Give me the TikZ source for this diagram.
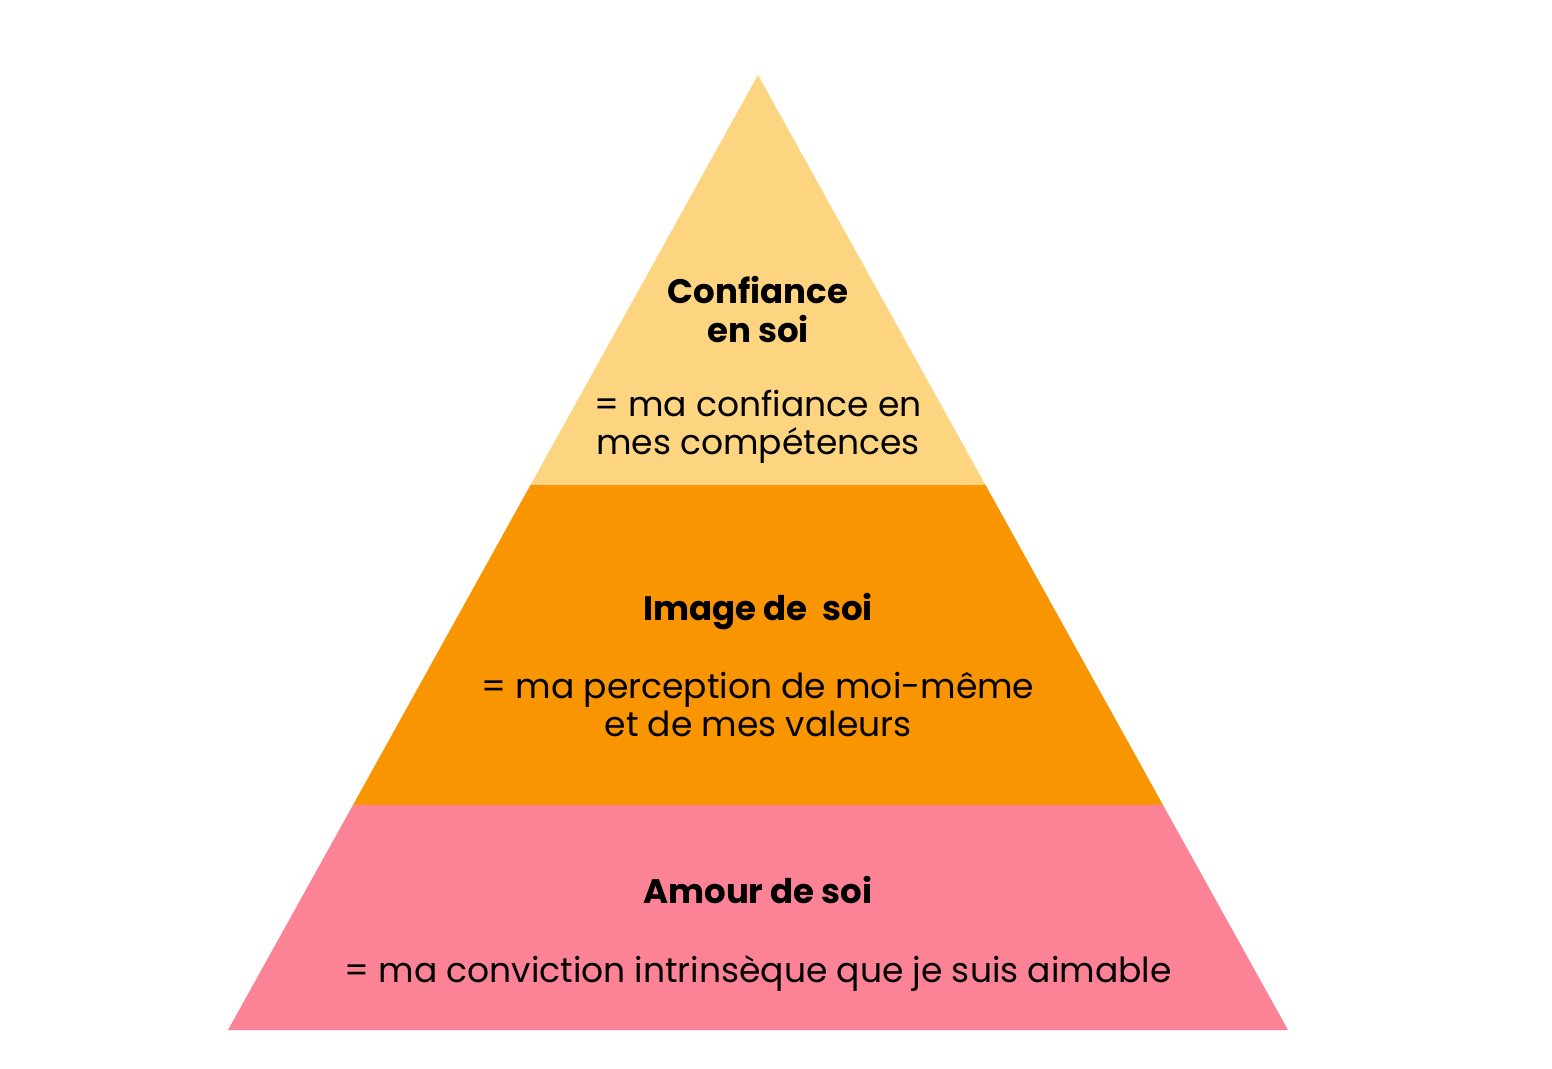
\documentclass[tikz,border=0pt]{standalone}
\usepackage{fontspec}
\setmainfont{Poppins}
\begin{document}
\begin{tikzpicture}[x=1pt,y=-1pt,
  head/.style={anchor=base,inner sep=0pt,font=\fontsize{34}{40}\selectfont\bfseries},
  desc/.style={anchor=base,inner sep=0pt,font=\fontsize{34.5}{40}\selectfont}]
\definecolor{layerTop}{HTML}{FDD581}
\definecolor{layerMid}{HTML}{F99500}
\definecolor{layerBot}{HTML}{FC8396}
\useasboundingbox (0,0) rectangle (1552,1068);
\fill[white] (0,0) rectangle (1552,1068);
\coordinate (apex) at (758,75);
\coordinate (t1l) at (530.5,485);
\coordinate (t1r) at (985.5,485);
\coordinate (t2l) at (353,805);
\coordinate (t2r) at (1163,805);
\coordinate (bl) at (228,1030);
\coordinate (br) at (1288,1030);
\fill[layerTop] (apex) -- (t1r) -- (t1l) -- cycle;
\fill[layerMid] (t1l) -- (t1r) -- (t2r) -- (t2l) -- cycle;
\fill[layerBot] (t2l) -- (t2r) -- (br) -- (bl) -- cycle;
\node[head] (h1a) at (758,303) {Confiance};
\node[head] (h1b) at (758,342) {en soi};
\node[desc] (d1a) at (758,416) {= ma confiance en};
\node[desc] (d1b) at (758,454) {mes compétences};
\node[head] (h2) at (758,620) {Image de~~soi};
\node[desc] (d2a) at (758,698) {= ma perception de moi-même};
\node[desc] (d2b) at (758,736) {et de mes valeurs};
\node[head] (h3) at (758,903) {Amour de soi};
\node[desc] (d3) at (758,982) {= ma conviction intrinsèque que je suis aimable};
\end{tikzpicture}
\end{document}
